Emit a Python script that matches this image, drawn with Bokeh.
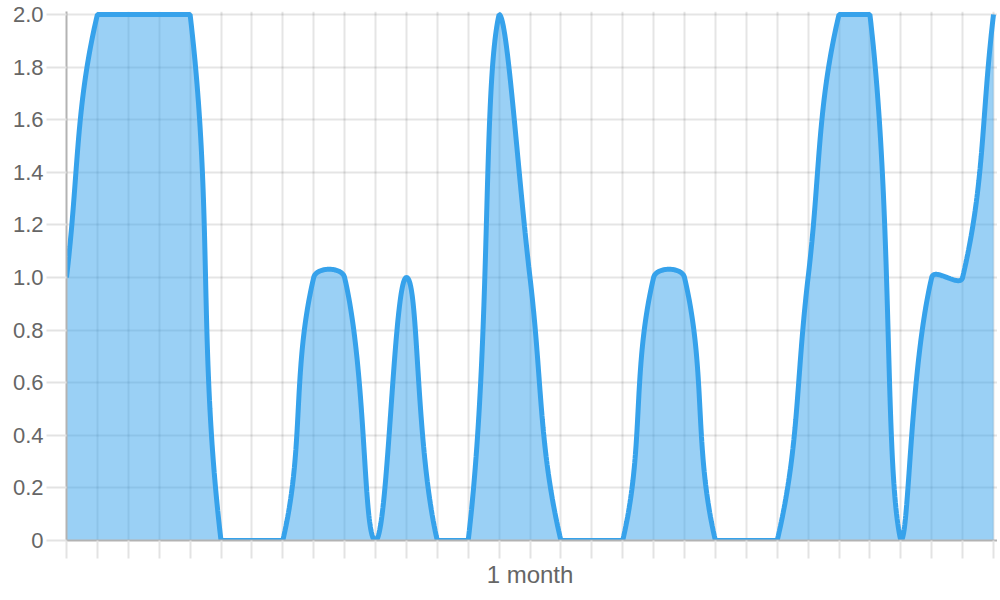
import numpy as np
from bokeh.plotting import figure
from bokeh.models import Range1d, FixedTicker
from bokeh.embed import file_html
from bokeh.resources import INLINE

# ---- data ----
days = list(range(31))
values = [1, 2, 2, 2, 2, 0, 0, 0, 1, 1, 0, 1, 0, 0, 2, 1, 0, 0, 0, 1, 1, 0, 0, 0, 1, 2, 2, 0, 1, 1, 2]
y_ticks = [0.0, 0.2, 0.4, 0.6, 0.8, 1.0, 1.2, 1.4, 1.6, 1.8, 2.0]
y_tick_labels = ["0", "0.2", "0.4", "0.6", "0.8", "1.0", "1.2", "1.4", "1.6", "1.8", "2.0"]
x_label_day = 15
x_label_text = "1 month"

# ---- geometry (pixel space used for Chart.js-style tension spline) ----
PLOT_W = 927.0
PLOT_H = 526.0
Y_MIN, Y_MAX = 0.0, 2.0
X_MIN, X_MAX = days[0], days[-1]
px_day = PLOT_W / (X_MAX - X_MIN)
px_unit = PLOT_H / (Y_MAX - Y_MIN)

def to_px(x, y):
    return ((x - X_MIN) * px_day, (Y_MAX - y) * px_unit)

def from_px(px, py):
    return (px / px_day + X_MIN, Y_MAX - py / px_unit)

pts = [to_px(x, y) for x, y in zip(days, values)]
n = len(pts)
tension = 0.4
ctrl_prev, ctrl_next = [], []
for i in range(n):
    prev = pts[i - 1] if i > 0 else pts[i]
    cur = pts[i]
    nxt = pts[i + 1] if i < n - 1 else pts[i]
    d01 = np.hypot(cur[0] - prev[0], cur[1] - prev[1])
    d12 = np.hypot(nxt[0] - cur[0], nxt[1] - cur[1])
    tot = d01 + d12
    s01 = d01 / tot if tot else 0
    s12 = d12 / tot if tot else 0
    fa, fb = tension * s01, tension * s12
    cp = [cur[0] - fa * (nxt[0] - prev[0]), cur[1] - fa * (nxt[1] - prev[1])]
    cn = [cur[0] + fb * (nxt[0] - prev[0]), cur[1] + fb * (nxt[1] - prev[1])]
    for c in (cp, cn):
        c[0] = min(max(c[0], 0.0), PLOT_W)
        c[1] = min(max(c[1], 0.0), PLOT_H)
    ctrl_prev.append(cp)
    ctrl_next.append(cn)

xs, ys = [], []
t = np.linspace(0, 1, 60)
for i in range(n - 1):
    p0, p1, p2, p3 = pts[i], ctrl_next[i], ctrl_prev[i + 1], pts[i + 1]
    bx = (1 - t) ** 3 * p0[0] + 3 * (1 - t) ** 2 * t * p1[0] + 3 * (1 - t) * t ** 2 * p2[0] + t ** 3 * p3[0]
    by = (1 - t) ** 3 * p0[1] + 3 * (1 - t) ** 2 * t * p1[1] + 3 * (1 - t) * t ** 2 * p2[1] + t ** 3 * p3[1]
    if i > 0:
        bx, by = bx[1:], by[1:]
    for a, b in zip(bx, by):
        dx, dy = from_px(a, b)
        xs.append(dx)
        ys.append(dy)

# ---- figure ----
pad_right_px = 4
pad_top_px = 3
p = figure(
    width=66 + int(PLOT_W) + pad_right_px,
    height=600,
    output_backend="svg",
    toolbar_location=None,
    x_range=Range1d(X_MIN, X_MAX + pad_right_px / px_day),
    y_range=Range1d(Y_MIN, Y_MAX + pad_top_px / px_unit),
    min_border_left=66,
    min_border_right=0,
    min_border_top=11,
    min_border_bottom=60,
)
p.outline_line_color = None
p.background_fill_color = "white"

blue = "#36A2EB"
p.patch(xs + [xs[-1], xs[0]], ys + [0, 0], fill_color=blue, fill_alpha=0.5, line_color=None)
p.line(xs, ys, line_color=blue, line_width=5)

grid_color = "#000000"
p.xaxis.ticker = FixedTicker(ticks=days)
p.yaxis.ticker = FixedTicker(ticks=y_ticks)
p.xgrid.ticker = FixedTicker(ticks=days)
p.ygrid.ticker = FixedTicker(ticks=y_ticks)
for g in (p.xgrid, p.ygrid):
    g.grid_line_color = grid_color
    g.grid_line_alpha = 0.1
    g.grid_line_width = 2

p.xaxis.major_label_overrides = {d: (x_label_text if d == x_label_day else "") for d in days}
p.yaxis.major_label_overrides = {t_: lab for t_, lab in zip(y_ticks, y_tick_labels)}

for ax in (p.xaxis[0], p.yaxis[0]):
    ax.axis_line_color = "#b3b3b3"
    ax.axis_line_width = 2
    ax.major_tick_line_color = "#e3e3e3"
    ax.major_tick_line_width = 2
    ax.major_tick_in = 0
    ax.minor_tick_line_color = None
    ax.major_label_text_font = "Liberation Sans"
    ax.major_label_text_color = "#666666"
p.yaxis.major_tick_out = 20
p.yaxis.major_label_standoff = 3
p.yaxis.major_label_text_font_size = "22px"
p.xaxis.major_tick_out = 18
p.xaxis.major_label_standoff = 2
p.xaxis.major_label_text_font_size = "24px"

open("out.html", "w").write(file_html(p, INLINE))
